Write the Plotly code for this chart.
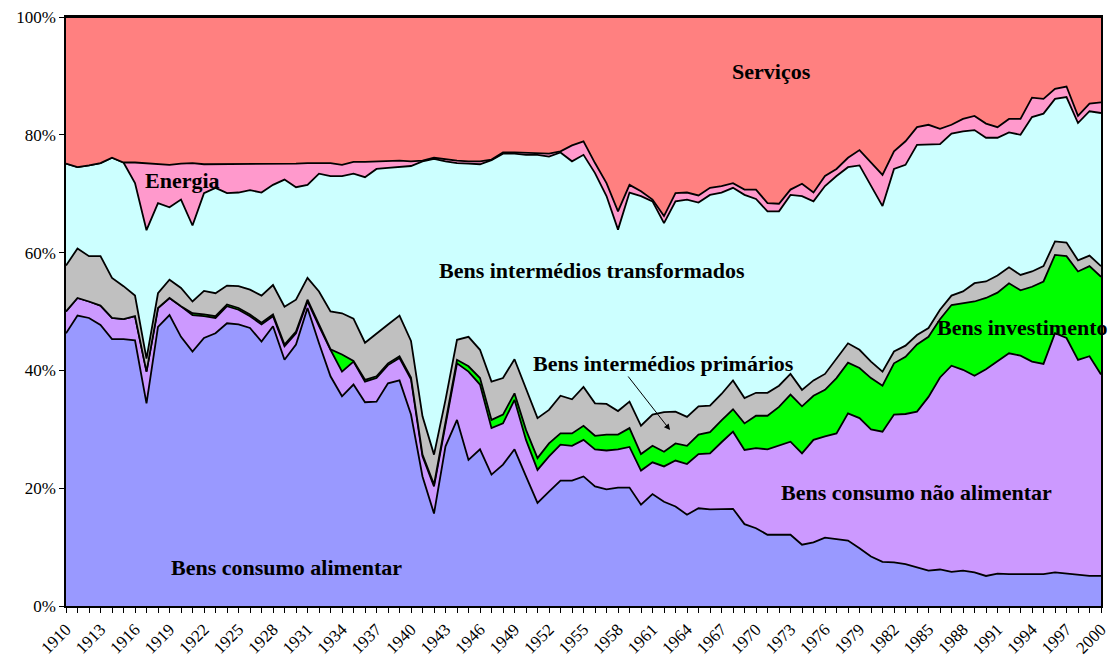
import plotly.graph_objects as go

years = list(range(1910, 2001))

alimentar = [46.3, 49.3, 48.9, 47.7, 45.3, 45.3, 45.1, 34.4, 47.4, 49.4,
             45.7, 43.2, 45.5, 46.3, 48.0, 47.8, 47.2, 44.9, 47.5, 41.8,
             44.4, 50.6, 44.6, 39.0, 35.6, 37.6, 34.6, 34.7, 37.8, 38.3,
             32.5, 22.0, 15.7, 27.1, 31.6, 24.8, 26.6, 22.3, 24.0, 26.6,
             22.0, 17.5, 19.4, 21.3, 21.3, 22.0, 20.3, 19.8, 20.1, 20.1,
             17.2, 19.0, 17.7, 16.9, 15.5, 16.6, 16.4, 16.5, 16.5, 13.9,
             13.2, 12.1, 12.1, 12.1, 10.4, 10.8, 11.6, 11.3, 11.1, 9.8,
             8.4, 7.5, 7.4, 7.1, 6.6, 6.0, 6.2, 5.8, 6.0, 5.7,
             5.1, 5.5, 5.4, 5.4, 5.4, 5.4, 5.7, 5.5, 5.2, 5.1, 5.1]

nao_alimentar = [3.7, 3.0, 2.8, 3.3, 3.6, 3.4, 4.1, 5.4, 3.2, 2.9,
                 5.2, 6.2, 3.7, 2.6, 2.9, 2.5, 2.0, 2.9, 1.7, 2.3,
                 1.9, 1.1, 2.9, 4.5, 4.2, 3.9, 3.5, 4.0, 3.1, 3.8,
                 6.0, 3.4, 4.6, 3.9, 9.6, 15.0, 11.0, 7.9, 7.0, 8.4,
                 6.2, 5.6, 6.0, 6.1, 5.9, 6.2, 6.3, 6.6, 6.5, 6.9,
                 5.8, 5.4, 6.0, 7.8, 8.6, 9.2, 9.5, 11.3, 13.1, 12.6,
                 13.6, 14.5, 15.1, 15.8, 15.5, 17.4, 17.2, 18.0, 21.6, 22.1,
                 21.6, 22.1, 25.1, 25.5, 26.4, 29.5, 32.6, 35.0, 34.1, 33.4,
                 35.1, 36.0, 37.5, 37.1, 36.1, 35.7, 40.6, 40.0, 36.6, 37.3, 34.2]

investimento = [0.0, 0.0, 0.0, 0.0, 0.0, 0.0, 0.0, 0.0, 0.0, 0.0,
                0.0, 0.3, 0.3, 0.3, 0.3, 0.3, 0.3, 0.3, 0.3, 0.3,
                0.3, 0.3, 0.3, 0.1, 2.9, 0.1, 0.3, 0.3, 0.3, 0.3,
                0.3, 0.3, 0.3, 0.3, 0.6, 0.9, 1.1, 1.4, 1.5, 1.1,
                1.7, 2.0, 2.2, 1.9, 2.1, 2.4, 2.3, 2.7, 2.5, 3.2,
                2.8, 2.8, 2.5, 2.9, 3.1, 3.3, 3.6, 3.7, 3.8, 4.5,
                5.5, 5.7, 6.6, 8.0, 8.0, 7.5, 7.9, 9.4, 8.6, 8.5,
                8.7, 7.8, 8.7, 9.7, 11.4, 10.2, 9.9, 10.3, 11.3, 12.6,
                12.1, 11.7, 11.9, 11.1, 12.7, 14.0, 13.3, 13.9, 15.0, 15.3, 16.6]

primarios = [7.8, 8.4, 7.7, 8.4, 6.8, 5.6, 3.5, 2.2, 2.5, 3.1,
             3.1, 2.0, 4.0, 3.9, 3.2, 3.7, 4.2, 4.6, 5.0, 6.4,
             5.4, 3.7, 5.6, 6.4, 7.0, 7.2, 6.3, 7.3, 6.6, 6.9,
             6.2, 6.5, 5.1, 3.7, 3.4, 5.0, 4.8, 6.5, 6.2, 5.8,
             7.1, 6.8, 5.7, 6.4, 5.8, 6.6, 5.5, 5.2, 4.0, 4.5,
             4.8, 5.3, 6.7, 5.4, 4.9, 4.8, 4.5, 4.5, 4.9, 4.3,
             3.9, 3.9, 3.6, 3.5, 2.8, 2.6, 2.7, 3.2, 3.3, 3.1,
             2.8, 2.4, 2.0, 1.9, 1.6, 1.5, 1.6, 1.6, 2.0, 3.1,
             2.8, 2.9, 2.7, 2.6, 2.6, 2.6, 2.3, 2.3, 1.9, 1.8, 1.8]

transformados = [17.3, 13.8, 15.4, 15.8, 20.4, 21.0, 19.1, 21.8, 15.3, 12.3,
                 15.0, 12.9, 16.6, 17.9, 15.7, 15.9, 16.9, 17.5, 17.0, 21.6,
                 19.1, 15.8, 20.0, 23.0, 23.3, 24.6, 28.1, 27.9, 26.6, 25.2,
                 29.7, 43.3, 50.2, 40.5, 30.0, 29.4, 31.5, 37.6, 38.1, 34.9,
                 39.6, 44.7, 43.0, 41.3, 40.4, 39.4, 39.1, 35.3, 30.8, 35.5,
                 39.0, 36.2, 32.1, 35.7, 36.9, 34.6, 35.8, 34.2, 32.7, 34.5,
                 32.9, 30.8, 29.6, 30.4, 32.9, 30.4, 31.9, 31.1, 29.9, 31.3,
                 29.8, 28.1, 31.0, 30.7, 32.3, 31.1, 28.1, 27.5, 27.2, 26.0,
                 24.4, 23.4, 22.9, 23.8, 26.2, 25.9, 24.2, 24.7, 23.3, 24.5, 26.0]

energia = [0.0, 0.0, 0.0, 0.0, 0.0, 0.0, 3.5, 11.4, 6.7, 7.2,
           6.1, 10.6, 4.9, 4.0, 4.9, 4.9, 4.5, 4.9, 3.6, 2.7,
           4.0, 3.7, 1.8, 2.2, 1.9, 2.0, 2.6, 1.3, 1.2, 1.1,
           0.8, 0.1, 0.2, 0.3, 0.4, 0.4, 0.5, 0.1, 0.2, 0.2,
           0.3, 0.2, 0.5, 0.2, 2.7, 2.3, 1.7, 2.2, 3.1, 1.3,
           0.8, 0.3, 1.2, 1.4, 1.2, 1.2, 1.2, 1.1, 0.8, 0.9,
           1.6, 1.4, 1.3, 0.9, 2.1, 1.5, 1.7, 1.2, 1.6, 2.6,
           4.0, 5.3, 3.0, 4.0, 3.0, 3.4, 2.6, 1.5, 2.1, 2.4,
           2.4, 1.8, 2.3, 2.7, 3.3, 2.5, 1.7, 1.8, 1.2, 1.3, 1.8]

servicos = [24.9, 25.5, 25.2, 24.8, 23.9, 24.7, 24.7, 24.8, 24.9, 25.1,
            24.9, 24.8, 25.0, 25.0, 25.0, 24.9, 24.9, 24.9, 24.9, 24.9,
            24.9, 24.8, 24.8, 24.8, 25.1, 24.6, 24.6, 24.5, 24.4, 24.4,
            24.5, 24.4, 23.9, 24.2, 24.4, 24.5, 24.5, 24.2, 23.0, 23.0,
            23.1, 23.2, 23.2, 22.8, 21.8, 21.1, 24.8, 28.2, 33.0, 28.5,
            29.6, 31.0, 33.8, 29.9, 29.8, 30.3, 29.0, 28.7, 28.2, 29.3,
            29.3, 31.6, 31.7, 29.3, 28.3, 29.8, 27.0, 25.8, 23.9, 22.6,
            24.7, 26.8, 22.8, 21.1, 18.7, 18.3, 19.0, 18.3, 17.3, 16.8,
            18.1, 18.7, 17.3, 17.3, 13.7, 13.9, 12.2, 11.8, 16.8, 14.7, 14.5]

y_ticks = [0, 20, 40, 60, 80, 100]
y_tick_labels = ["0%", "20%", "40%", "60%", "80%", "100%"]

series = [
    ("Bens consumo alimentar", alimentar, "#9999FF"),
    ("Bens consumo não alimentar", nao_alimentar, "#CC99FF"),
    ("Bens investimento", investimento, "#00FF00"),
    ("Bens intermédios primários", primarios, "#C0C0C0"),
    ("Bens intermédios transformados", transformados, "#CCFFFF"),
    ("Energia", energia, "#FF99CC"),
    ("Serviços", servicos, "#FF8080"),
]

fig = go.Figure()
for name, vals, col in series:
    fig.add_trace(go.Scatter(
        x=years, y=vals, name=name, mode="lines",
        stackgroup="one", groupnorm="percent",
        line=dict(color="black", width=1.8),
        fillcolor=col, hoverinfo="x+y+name",
    ))

tick_text = [str(y) if (y - 1910) % 3 == 0 else "" for y in years]

FONT = "Liberation Serif, Times New Roman, serif"

fig.update_layout(
    width=1113, height=668,
    margin=dict(l=66, r=12, t=17, b=62, autoexpand=False),
    paper_bgcolor="white", plot_bgcolor="white",
    showlegend=False,
    font=dict(family=FONT, size=16, color="black"),
    xaxis=dict(
        range=[1910, 2000], tickmode="array", tickvals=years, ticktext=tick_text,
        tickangle=-45, ticks="outside", ticklen=5, tickcolor="black",
        showline=True, linecolor="black", linewidth=1.5, mirror=True,
        showgrid=False, zeroline=False, tickfont=dict(size=17), automargin=False,
    ),
    yaxis=dict(
        range=[0, 100], tickmode="array", tickvals=y_ticks, ticktext=y_tick_labels,
        ticks="outside", ticklen=5, tickcolor="black",
        showline=True, linecolor="black", linewidth=1.5, mirror=True,
        showgrid=False, zeroline=False, tickfont=dict(size=17), automargin=False,
    ),
)

labels = [
    ("Serviços", 0.682, 0.908),
    ("Energia", 0.113, 0.723),
    ("Bens intermédios transformados", 0.508, 0.570),
    ("Bens intermédios primários", 0.577, 0.411),
    ("Bens investimento", 0.924, 0.472),
    ("Bens consumo não alimentar", 0.822, 0.192),
    ("Bens consumo alimentar", 0.213, 0.066),
]
for txt, xx, yy in labels:
    fig.add_annotation(text="<b>" + txt + "</b>", x=xx, y=yy, xref="paper", yref="paper",
                       xanchor="center", yanchor="middle",
                       showarrow=False, font=dict(family=FONT, size=22, color="black"))

fig.add_annotation(text="", x=0.5836, y=0.2988, xref="paper", yref="paper",
                   showarrow=True, ax=-43, ay=-55, arrowhead=2, arrowsize=1.2,
                   arrowwidth=1, arrowcolor="black")

fig.write_html("out.html", config={"displayModeBar": False},
               post_script="document.body.style.margin='0';")
